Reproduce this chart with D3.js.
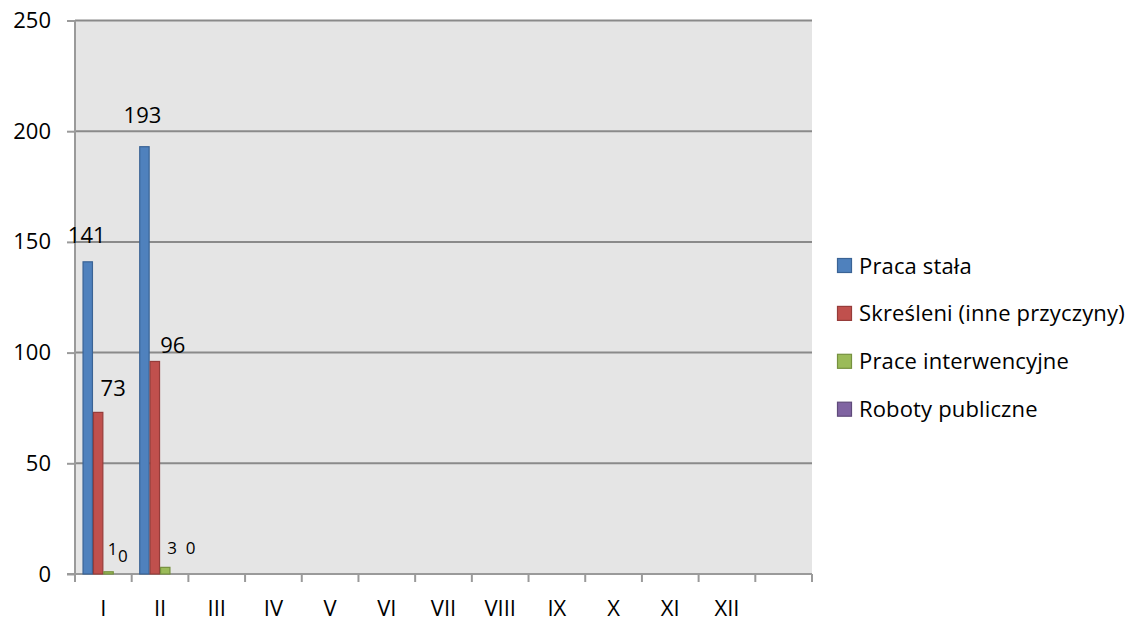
<!DOCTYPE html>
<html><head><meta charset="utf-8">
<script src="https://cdn.jsdelivr.net/npm/d3@7"></script>
<style>
html,body{margin:0;padding:0;background:#fff;}
text{font-family:"Open Sans",Lato,sans-serif;fill:#000;}
</style></head>
<body><svg id="c" width="1143" height="623"></svg>
<script>
const categories = ["I","II","III","IV","V","VI","VII","VIII","IX","X","XI","XII",""];
const seriesNames = ["Praca stała","Skreśleni (inne przyczyny)","Prace interwencyjne","Roboty publiczne"];
const pracaStala = [141,193,null,null,null,null,null,null,null,null,null,null,null];
const skresleni = [73,96,null,null,null,null,null,null,null,null,null,null,null];
const praceInterwencyjne = [1,3,null,null,null,null,null,null,null,null,null,null,null];
const robotyPubliczne = [0,0,null,null,null,null,null,null,null,null,null,null,null];
const yTicks = [0,50,100,150,200,250];

(function(){
const seriesValues = [pracaStala, skresleni, praceInterwencyjne, robotyPubliczne];
const fills = ["#4F81BD","#C0504D","#9BBB59","#8064A2"];
const strokes = ["#3A6395","#963C3A","#76913F","#5F4A7A"];
// label nudges (style config): [dx, dy, fontSize] per series / category index
const labelStyle = {
  "0-0":[-1,-19,22],"0-1":[-2,-24,22],
  "1-0":[15,-16,22],"1-1":[18,-8,22],
  "2-0":[4,-17,17],"2-1":[7,-13.5,17],
  "3-0":[4,-12.5,17],"3-1":[15,-20,17]
};

const svg = d3.select("#c");
const pL = 75, pR = 812, pT = 20.5, pB = 574;
const x = d3.scaleBand().domain(categories).range([pL,pR]).paddingInner(0).paddingOuter(0);
const x1 = d3.scaleBand().domain(d3.range(4)).range([0,x.bandwidth()]).paddingOuter(0.725).paddingInner(0);
const y = d3.scaleLinear().domain([0,250]).range([pB,pT]);

svg.append("rect").attr("x",pL).attr("y",pT).attr("width",pR-pL).attr("height",pB-pT).attr("fill","#E5E5E5");

svg.append("g").selectAll("line").data(yTicks.filter(d=>d>0)).join("line")
  .attr("x1",pL).attr("x2",pR).attr("y1",d=>y(d)).attr("y2",d=>y(d))
  .attr("stroke","#8A8A8A").attr("stroke-width",2);

// y axis
const yAxis = d3.axisLeft(y).tickValues(yTicks).tickSize(8).tickPadding(16);
const gy = svg.append("g").attr("transform",`translate(${pL},0)`).call(yAxis);
gy.select(".domain").attr("stroke","#9A9A9A").attr("stroke-width",2).attr("d",`M0,${pT}V${pB}`);
gy.selectAll(".tick line").attr("stroke","#9A9A9A").attr("stroke-width",2);
gy.selectAll(".tick text").attr("font-size",22).attr("font-family","'Open Sans', sans-serif").attr("fill","#000");

// x axis
const xTickPos = categories.map((c,i)=>pL + i*x.step()).concat([pR]);
const gx = svg.append("g");
gx.append("line").attr("x1",pL-8).attr("x2",pR).attr("y1",pB).attr("y2",pB).attr("stroke","#9A9A9A").attr("stroke-width",2);
gx.selectAll("line.t").data(xTickPos).join("line").attr("class","t")
  .attr("x1",d=>d).attr("x2",d=>d).attr("y1",pB).attr("y2",pB+8)
  .attr("stroke","#9A9A9A").attr("stroke-width",2);
gx.selectAll("text").data(categories).join("text")
  .attr("x",d=>x(d)+x.bandwidth()/2).attr("y",615.5).attr("text-anchor","middle")
  .attr("font-size",22).text(d=>d);

// bars
seriesValues.forEach((vals,si)=>{
  const g = svg.append("g");
  const data = categories.map((c,i)=>({c,i,v:vals[i]})).filter(d=>d.v!=null);
  g.selectAll("rect").data(data.filter(d=>d.v>0)).join("rect")
    .attr("x",d=>x(d.c)+x1(si)+0.5).attr("width",x1.bandwidth()-1)
    .attr("y",d=>y(d.v)).attr("height",d=>pB-y(d.v))
    .attr("fill",fills[si]).attr("stroke",strokes[si]).attr("stroke-width",1.2);
  g.selectAll("text").data(data).join("text")
    .attr("x",d=>x(d.c)+x1(si)+x1.bandwidth()/2+labelStyle[si+"-"+d.i][0])
    .attr("y",d=>y(d.v)+labelStyle[si+"-"+d.i][1])
    .attr("text-anchor","middle")
    .attr("font-size",d=>labelStyle[si+"-"+d.i][2])
    .text(d=>d.v);
});

// legend
const lg = svg.append("g");
seriesNames.forEach((n,i)=>{
  const cy = 265.5 + i*47.9;
  lg.append("rect").attr("x",837.5).attr("y",cy-7).attr("width",14).attr("height",14)
    .attr("fill",fills[i]).attr("stroke",strokes[i]).attr("stroke-width",1.2);
  lg.append("text").attr("x",859).attr("y",cy+8).attr("font-size",22).attr("letter-spacing",0.15).text(n);
});
})();
</script></body></html>
